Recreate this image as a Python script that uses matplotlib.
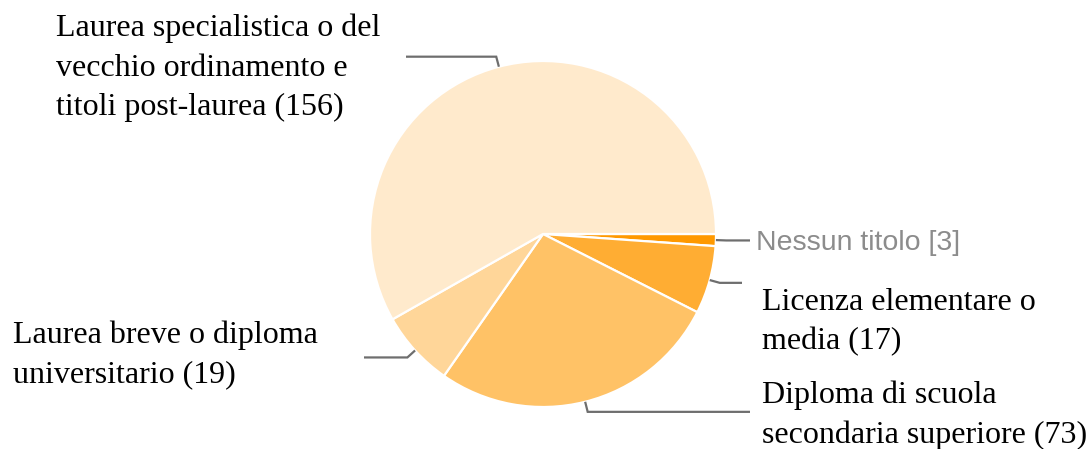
import numpy as np
import matplotlib.pyplot as plt

# Data (clockwise from 3 o'clock)
labels = [
    "Nessun titolo [3]",
    "Licenza elementare o\nmedia (17)",
    "Diploma di scuola\nsecondaria superiore (73)",
    "Laurea breve o diploma\nuniversitario (19)",
    "Laurea specialistica o del\nvecchio ordinamento e\ntitoli post-laurea (156)",
]
counts = [3, 17, 73, 19, 156]
colors = ["#FF9900", "#FFAD33", "#FFC266", "#FFD699", "#FFEACC"]

W, H = 1089, 449
cx, cy, R = 543, 234, 173

fig = plt.figure(figsize=(W / 100, H / 100), dpi=100)
ax = fig.add_axes([0, 0, 1, 1])

wedges, _ = ax.pie(counts, colors=colors, startangle=0, counterclock=False,
                   center=(cx, H - cy), radius=R, frame=True,
                   wedgeprops=dict(edgecolor="white", linewidth=1.6))

ax.set_xlim(0, W)
ax.set_ylim(0, H)
ax.set_aspect("equal")
ax.axis("off")

# label placement: (text x, first baseline from top, leader end x)
layout = [
    (756, 250, 750),
    (762, 310, 742),
    (762, 403, 750),
    (13, 343, 364),
    (56, 36, 406),
]

for w, lab, (tx, ty, lx) in zip(wedges, labels, layout):
    ang = np.deg2rad((w.theta1 + w.theta2) / 2)
    ex, ey = cx + R * np.cos(ang), (H - cy) + R * np.sin(ang)
    kx, ky = cx + 1.06 * R * np.cos(ang), (H - cy) + 1.06 * R * np.sin(ang)
    ax.plot([ex, kx, lx], [ey, ky, ky], color="#6e6e6e", lw=1.6,
            solid_capstyle="butt", solid_joinstyle="miter")

    if lab.startswith("Nessun"):
        ax.text(tx, H - ty, lab, fontsize=20.5, family="Liberation Sans",
                color="#8c8c8c", ha="left", va="baseline")
    else:
        for i, line in enumerate(lab.split("\n")):
            ax.text(tx, H - (ty + 39.5 * i), line, fontsize=23,
                    family="Liberation Serif", color="black",
                    ha="left", va="baseline")

fig.savefig("out.png", dpi=100, facecolor="white")
